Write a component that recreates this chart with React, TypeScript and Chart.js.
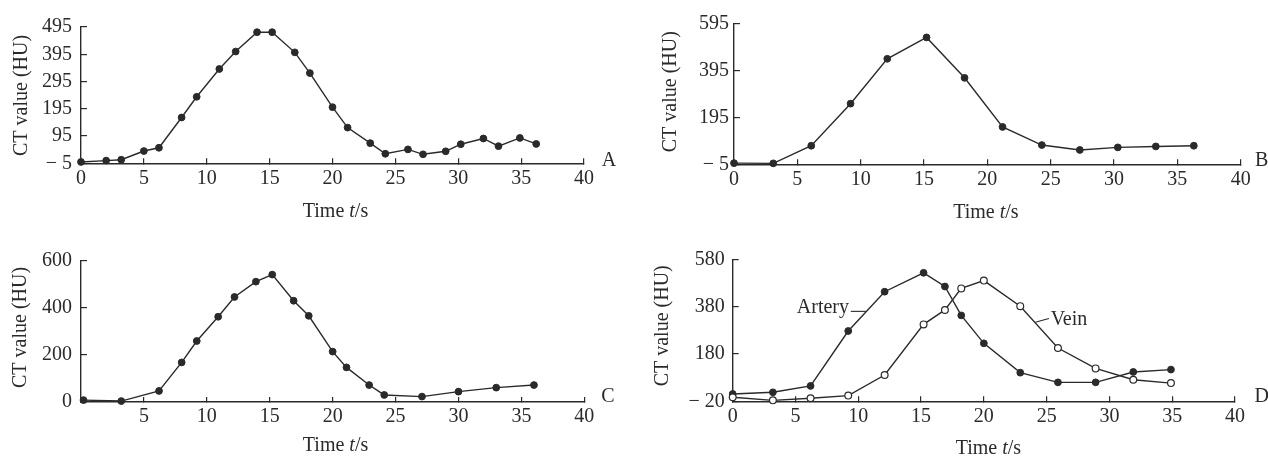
import React, { useEffect, useRef } from "react";
import { Chart, registerables } from "chart.js";

Chart.register(...registerables);

const FONT = '"Liberation Serif", "DejaVu Serif", "Times New Roman", serif';
const INK = "#2a2a2a";

// ---------- data ----------
const xTicks = [0, 5, 10, 15, 20, 25, 30, 35, 40];
const xLabels = ["0", "5", "10", "15", "20", "25", "30", "35", "40"];
const xLabelsC = ["", "5", "10", "15", "20", "25", "30", "35", "40"];

const timeA = [0, 2, 3.2, 5, 6.2, 8, 9.2, 11, 12.3, 14, 15.2, 17, 18.2, 20, 21.2, 23, 24.2, 26, 27.2, 29, 30.2, 32, 33.2, 34.9, 36.2];
const ctA = [0, 5, 8, 40, 52, 163, 239, 341, 405, 476, 476, 402, 326, 201, 126, 69, 30, 46, 28, 39, 65, 86, 58, 88, 66];
const yTicksA = [-5, 95, 195, 295, 395, 495];

const timeB = [0, 3.1, 6.1, 9.2, 12.1, 15.2, 18.2, 21.2, 24.3, 27.3, 30.3, 33.3, 36.3];
const ctB = [0, -1, 74, 253, 444, 535, 363, 154, 77, 56, 67, 71, 74];
const yTicksB = [-5, 195, 395, 595];

const timeC = [0.2, 3.2, 6.2, 8, 9.2, 10.9, 12.2, 13.9, 15.2, 16.9, 18.1, 20, 21.1, 22.9, 24.1, 27.1, 30, 33, 36];
const ctC = [8, 4, 47, 168, 259, 362, 446, 511, 541, 430, 366, 214, 147, 72, 30, 23, 44, 61, 72];
const yTicksC = [0, 200, 400, 600];

const timeD = [0, 3.2, 6.2, 9.2, 12.1, 15.2, 16.9, 18.2, 20, 22.9, 25.9, 28.9, 31.9, 34.9];
const arteryD = [11, 18, 45, 277, 443, 523, 465, 343, 225, 101, 60, 60, 104, 114];
const veinD = [-3, -16, -7, 4, 91, 305, 366, 457, 490, 382, 205, 119, 71, 57];
const yTicksD = [-20, 180, 380, 580];

const Y_TITLE = "CT value (HU)";

// ---------- layout ----------
type Series = { x: number[]; y: number[]; open: boolean };
type Note = { text: string; at: [number, number]; lead: [number, number]; textAt: [number, number]; align: CanvasTextAlign };
type Spec = {
  key: string;
  box: { x: number; y: number; w: number; h: number };
  area: { l: number; r: number; t: number; b: number };
  yMin: number;
  yMax: number;
  yTicks: number[];
  xLabels: string[];
  yLabelPad: number;
  series: Series[];
  letter: string;
  yTitle: [number, number];
  xTitle: [number, number];
  letterPos: [number, number];
  notes: Note[];
};

const specs: Spec[] = [
  {
    key: "A",
    box: { x: 0, y: 0, w: 634, h: 228 },
    area: { l: 81, r: 584, t: 21, b: 163.3 },
    yMin: -5, yMax: 495, yTicks: yTicksA, xLabels, yLabelPad: 15,
    series: [{ x: timeA, y: ctA, open: false }],
    letter: "A", yTitle: [-59.5, 0.3], xTitle: [3, 53.7], letterPos: [17.7, 2.4], notes: [],
  },
  {
    key: "B",
    box: { x: 634, y: 0, w: 634, h: 228 },
    area: { l: 734, r: 1240.7, t: 23.3, b: 164.3 },
    yMin: -5, yMax: 595, yTicks: yTicksB, xLabels, yLabelPad: 11,
    series: [{ x: timeB, y: ctB, open: false }],
    letter: "B", yTitle: [-63, -2.1], xTitle: [-1.5, 53.7], letterPos: [14.3, 1.4], notes: [],
  },
  {
    key: "C",
    box: { x: 0, y: 228, w: 634, h: 229 },
    area: { l: 81, r: 584.3, t: 260.7, b: 402 },
    yMin: 0, yMax: 600, yTicks: yTicksC, xLabels: xLabelsC, yLabelPad: 15,
    series: [{ x: timeC, y: ctC, open: false }],
    letter: "C", yTitle: [-60, -3.9], xTitle: [2.9, 49], letterPos: [17, -0.3], notes: [],
  },
  {
    key: "D",
    box: { x: 634, y: 228, w: 634, h: 229 },
    area: { l: 732.7, r: 1235, t: 259.3, b: 401.3 },
    yMin: -20, yMax: 580, yTicks: yTicksD, xLabels, yLabelPad: 14,
    series: [
      { x: timeD, y: veinD, open: true },
      { x: timeD, y: arteryD, open: false },
    ],
    letter: "D", yTitle: [-70.2, -4.5], xTitle: [4.5, 52.7], letterPos: [19.5, 0.4],
    notes: [
      { text: "Artery", at: [10.6, 360], lead: [-15, 0], textAt: [-16.8, 1.8], align: "right" },
      { text: "Vein", at: [24.1, 314], lead: [13.6, -3.8], textAt: [15.3, 2.9], align: "left" },
    ],
  },
];

function fmtY(v: number): string {
  return v < 0 ? "\u2212 " + Math.abs(v) : String(v);
}

function makeDecor(p: Spec) {
  return {
    id: "decor" + p.key,
    afterDraw(chart: any) {
      const { ctx, chartArea: a, scales } = chart;
      const sx = scales.x;
      const sy = scales.y;
      ctx.save();
      ctx.fillStyle = INK;
      ctx.strokeStyle = INK;
      const reg = `20px ${FONT}`;
      const ita = `italic 20px ${FONT}`;

      // y-axis title
      ctx.save();
      ctx.font = reg;
      ctx.textAlign = "center";
      ctx.textBaseline = "middle";
      ctx.translate(a.left + p.yTitle[0], (a.top + a.bottom) / 2 + p.yTitle[1]);
      ctx.rotate(-Math.PI / 2);
      ctx.fillText(Y_TITLE, 0, 0);
      ctx.restore();

      // x-axis title with italic t
      const parts = [
        { t: "Time ", f: reg },
        { t: "t", f: ita },
        { t: "/s", f: reg },
      ];
      let total = 0;
      const widths = parts.map((pt) => {
        ctx.font = pt.f;
        const w = ctx.measureText(pt.t).width;
        total += w;
        return w;
      });
      let cx = (a.left + a.right) / 2 + p.xTitle[0] - total / 2;
      const by = a.bottom + p.xTitle[1];
      ctx.textAlign = "left";
      ctx.textBaseline = "alphabetic";
      parts.forEach((pt, i) => {
        ctx.font = pt.f;
        ctx.fillText(pt.t, cx, by);
        cx += widths[i];
      });

      // panel letter
      ctx.font = reg;
      ctx.fillText(p.letter, a.right + p.letterPos[0], a.bottom + p.letterPos[1]);

      // notes with leader lines
      p.notes.forEach((n) => {
        const px = sx.getPixelForValue(n.at[0]);
        const py = sy.getPixelForValue(n.at[1]);
        ctx.lineWidth = 1.1;
        ctx.beginPath();
        ctx.moveTo(px, py);
        ctx.lineTo(px + n.lead[0], py + n.lead[1]);
        ctx.stroke();
        ctx.font = reg;
        ctx.textAlign = n.align;
        ctx.fillText(n.text, px + n.textAt[0], py + n.textAt[1]);
      });
      ctx.restore();
    },
  };
}

function PanelChart({ p }: { p: Spec }) {
  const ref = useRef<HTMLCanvasElement | null>(null);
  useEffect(() => {
    if (!ref.current) return;
    const tickFont = { family: FONT, size: 20 };
    const chart = new Chart(ref.current, {
      type: "line",
      data: {
        datasets: p.series.map((s) => ({
          data: s.x.map((x, i) => ({ x, y: s.y[i] })),
          borderColor: INK,
          borderWidth: 1.4,
          pointRadius: 3.4,
          pointBorderWidth: s.open ? 1.2 : 1,
          pointBackgroundColor: s.open ? "#ffffff" : INK,
          pointBorderColor: INK,
          tension: 0,
          fill: false,
          clip: false as any,
        })),
      },
      options: {
        animation: false,
        responsive: false,
        maintainAspectRatio: false,
        events: [],
        layout: {
          padding: {
            left: 0,
            top: p.area.t - p.box.y,
            right: p.box.x + p.box.w - p.area.r,
            bottom: 0,
          },
        },
        plugins: {
          legend: { display: false },
          tooltip: { enabled: false },
          title: { display: false },
        },
        scales: {
          x: {
            type: "linear",
            position: "bottom",
            min: 0,
            max: 40,
            afterBuildTicks: (s: any) => {
              s.ticks = xTicks.map((v) => ({ value: v }));
            },
            afterFit: (s: any) => {
              s.height = p.box.y + p.box.h - p.area.b;
            },
            grid: {
              display: true,
              drawOnChartArea: false,
              drawTicks: true,
              tickLength: -5,
              color: INK,
              lineWidth: 1.2,
            },
            border: { display: true, color: INK, width: 1.4 },
            ticks: {
              padding: 8,
              color: INK,
              font: tickFont,
              autoSkip: false,
              maxRotation: 0,
              minRotation: 0,
              callback: (_v: any, i: number) => p.xLabels[i],
            },
          },
          y: {
            type: "linear",
            position: "left",
            min: p.yMin,
            max: p.yMax,
            afterBuildTicks: (s: any) => {
              s.ticks = p.yTicks.map((v) => ({ value: v }));
            },
            afterFit: (s: any) => {
              s.width = p.area.l - p.box.x;
            },
            grid: {
              display: true,
              drawOnChartArea: false,
              drawTicks: true,
              tickLength: -6,
              color: INK,
              lineWidth: 1.2,
            },
            border: { display: true, color: INK, width: 1.4 },
            ticks: {
              padding: p.yLabelPad,
              color: INK,
              font: tickFont,
              autoSkip: false,
              callback: (v: any) => fmtY(Number(v)),
            },
          },
        },
      },
      plugins: [makeDecor(p)],
    } as any);
    return () => chart.destroy();
  }, [p]);
  return (
    <canvas
      ref={ref}
      width={p.box.w}
      height={p.box.h}
      style={{ position: "absolute", left: p.box.x, top: p.box.y, width: p.box.w, height: p.box.h }}
    />
  );
}

export default function App() {
  return (
    <div
      style={{
        position: "fixed",
        left: 0,
        top: 0,
        width: 1268,
        height: 457,
        background: "#ffffff",
        overflow: "hidden",
      }}
    >
      {specs.map((p) => (
        <PanelChart key={p.key} p={p} />
      ))}
    </div>
  );
}
